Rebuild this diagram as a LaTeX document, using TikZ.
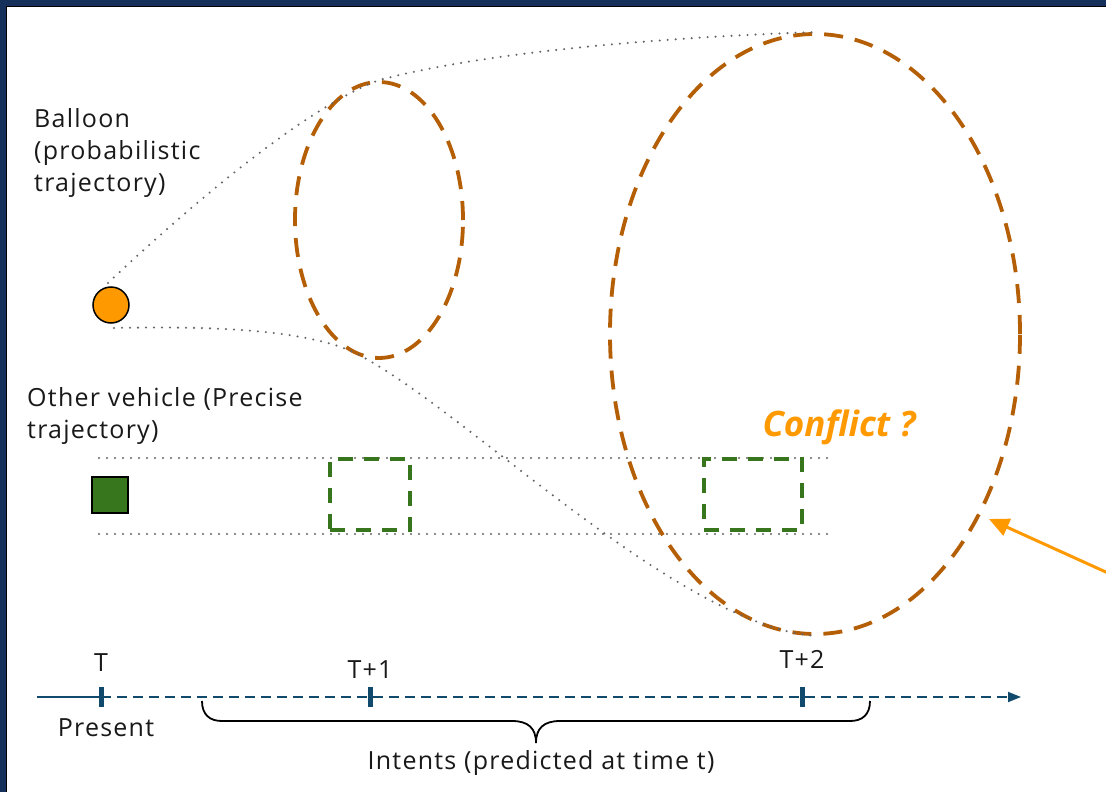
\documentclass[tikz,border=0pt]{standalone}
\usepackage{fontspec}
\setmainfont{Open Sans}
\newfontfamily\lblfont[LetterSpace=5]{Open Sans}
\usetikzlibrary{arrows.meta,shapes.geometric}
\definecolor{navy}{HTML}{15305A}
\definecolor{ellc}{HTML}{B45F06}
\definecolor{grn}{HTML}{38761D}
\definecolor{org}{HTML}{FF9900}
\definecolor{tl}{HTML}{124A6E}
\definecolor{dotc}{HTML}{666666}
\tikzset{
  lbl/.style={font=\lblfont\fontsize{25}{32}\selectfont, inner sep=0pt, text=black!90},
  ell/.style={draw=ellc, line width=3.8pt, dash pattern=on 19pt off 12pt},
  ghost/.style={draw=grn, line width=3.3pt, dash pattern=on 15pt off 11pt},
  dotline/.style={draw=dotc, line width=2.3pt, line cap=round, dash pattern=on 0pt off 8pt},
  tick/.style={fill=tl, draw=none, minimum width=5pt, minimum height=20pt, inner sep=0pt},
}
\begin{document}
\begin{tikzpicture}[x=1pt,y=-1pt]
\useasboundingbox (0,0) rectangle (1106,792);
\fill[white] (0,0) rectangle (1106,792);
\fill[navy] (0,0) rectangle (1106,6);
\fill[navy] (0,0) rectangle (6,792);
\draw[black, line width=1pt] (1106,6.5) -- (6.5,6.5) -- (6.5,792);

% texts
\node[lbl, anchor=north west, align=left] (baltxt) at (34,108) {Balloon\\(probabilistic\\trajectory)};
\node[lbl, anchor=north west, align=left] (vehtxt) at (27,387) {Other vehicle (Precise\\trajectory)};

% ellipses
\node[ell, ellipse, minimum width=168pt, minimum height=276pt, inner sep=0pt] (e1) at (379,220) {};
\node[ell, ellipse, minimum width=410pt, minimum height=600pt, inner sep=0pt] (e2) at (815,334) {};

% balloon and vehicle
\node[circle, fill=org, draw=black, line width=1.5pt, minimum size=36pt, inner sep=0pt] (bal) at (111,305) {};
\node[rectangle, fill=grn, draw=black, line width=1.5pt, minimum size=36pt, inner sep=0pt] (veh) at (110,495) {};

% dotted envelope of the balloon
\coordinate (u0) at (108,283);
\coordinate (l0) at (114,328);
\draw[dotline] (u0) .. controls (180,215) and (300,110) .. (e1.north) .. controls (500,48) and (700,36) .. (e2.north);
\draw[dotline] (l0) .. controls (250,325) and (330,335) .. (368,360) .. controls (475,420) and (680,625) .. (e2.south);

% vehicle corridor
\coordinate (c1a) at (99,458); \coordinate (c1b) at (830,458);
\coordinate (c2a) at (99,534); \coordinate (c2b) at (830,534);
\draw[dotline] (c1a) -- (c1b);
\draw[dotline] (c2a) -- (c2b);

% predicted vehicle boxes
\node[ghost, minimum width=80pt, minimum height=71pt, inner sep=0pt] (g1) at (370,494.5) {};
\node[ghost, minimum width=98pt, minimum height=71pt, inner sep=0pt] (g2) at (753,494.5) {};

% conflict
\node[font=\fontsize{35}{40}\selectfont\bfseries\itshape, text=org, inner sep=0pt] (conf) at (839,427) {Conflict ?};
\coordinate (arrS) at (1108,573);
\coordinate (arrE) at (989,519);
\draw[org, line width=3pt, -{Triangle[length=20pt,width=18pt]}] (arrS) -- (arrE);

% timeline
\coordinate (t0) at (37,697);
\node[tick] (tk0) at (101,697) {};
\node[tick] (tk1) at (370,697) {};
\node[tick] (tk2) at (802,697) {};
\coordinate (tend) at (1021,697);
\draw[tl, line width=1.8pt] (t0) -- (tk0.center);
\draw[tl, line width=1.8pt, dash pattern=on 10pt off 6pt, -{Triangle[length=13pt,width=10pt]}] (tk0.center) -- (tend);
\node[tick] at (tk0) {};
\node[tick] at (tk1) {};
\node[tick] at (tk2) {};

\node[lbl, anchor=south] (lT) at (101,672) {T};
\node[lbl, anchor=south] (lT1) at (370,679) {T+1};
\node[lbl, anchor=south] (lT2) at (802,669) {T+2};
\node[lbl, anchor=north] (pres) at (106,718) {Present};

% brace
\coordinate (bl) at (202,701);
\coordinate (br) at (870,701);
\coordinate (btip) at (536,743);
\draw[black, line width=1.8pt] (bl) .. controls (202,715) and (210,721) .. (222,721) -- (512,721) .. controls (528,721) and (536,728) .. (btip)
  .. controls (536,728) and (544,721) .. (560,721) -- (850,721) .. controls (862,721) and (870,715) .. (br);
\node[lbl, anchor=north] (intents) at (541,750) {Intents (predicted at time t)};
\end{tikzpicture}
\end{document}
